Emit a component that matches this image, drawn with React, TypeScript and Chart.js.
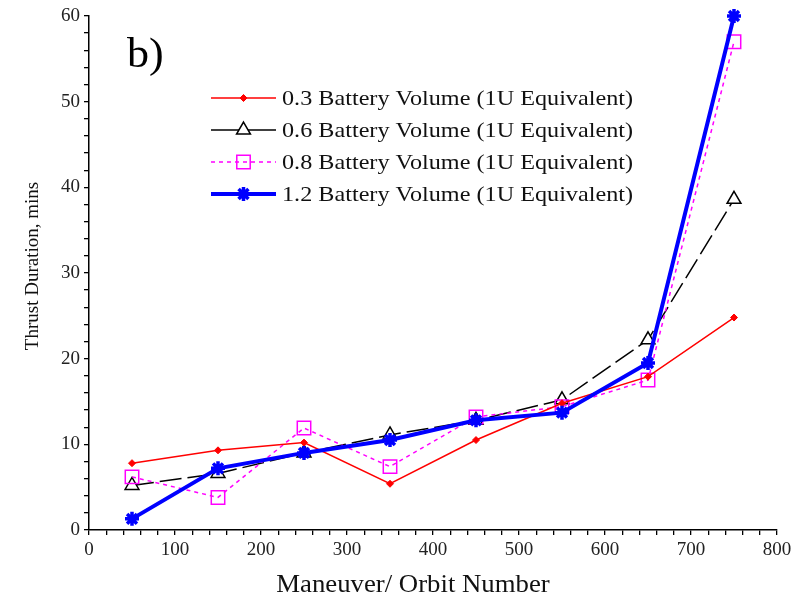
import React, { useEffect, useRef } from 'react';
import { Chart, registerables } from 'chart.js';
import { drawPoint } from 'chart.js/helpers';

Chart.register(...registerables);

// Maneuver / orbit numbers sampled on the x axis
const orbitNumbers = [50, 150, 250, 350, 450, 550, 650, 750];

// Thrust duration (mins) for each battery volume (1U equivalent)
const vol03 = [7.8, 9.3, 10.2, 5.4, 10.5, 14.8, 17.9, 24.8];
const vol06 = [5.2, 6.6, 9.0, 11.1, 12.8, 15.2, 22.2, 38.6];
const vol08 = [6.2, 3.8, 11.9, 7.4, 13.2, 14.4, 17.5, 57.0];
const vol12 = [1.3, 7.2, 9.0, 10.5, 12.8, 13.7, 19.5, 60.0];

const seriesLabels = [
  '0.3 Battery Volume (1U Equivalent)',
  '0.6 Battery Volume (1U Equivalent)',
  '0.8 Battery Volume (1U Equivalent)',
  '1.2 Battery Volume (1U Equivalent)',
];

const xTickLabels = [0, 100, 200, 300, 400, 500, 600, 700, 800];
const yTickLabels = [0, 10, 20, 30, 40, 50, 60];

const panelLabel = 'b)';
const xTitle = 'Maneuver/ Orbit Number';
const yTitle = 'Thrust Duration, mins';

const SERIF = '"Liberation Serif", "Times New Roman", serif';

const toPoints = (ys: number[]) => ys.map((y, i) => ({ x: orbitNumbers[i], y }));

// Text drawn slightly wider than the font's natural width
function wideText(ctx: CanvasRenderingContext2D, text: string, x: number, y: number, sx: number) {
  ctx.save();
  ctx.translate(x, y);
  ctx.scale(sx, 1);
  ctx.fillText(text, 0, 0);
  ctx.restore();
}

// Draws the panel label, axis titles and the inset legend
const annotationsPlugin = {
  id: 'annotations',
  afterDraw(chart: any) {
    const ctx: CanvasRenderingContext2D = chart.ctx;
    const area = chart.chartArea;
    ctx.save();

    ctx.fillStyle = '#000';
    ctx.font = `42px ${SERIF}`;
    ctx.textAlign = 'left';
    ctx.textBaseline = 'alphabetic';
    wideText(ctx, panelLabel, area.left + 38, 67, 1.05);

    // x axis title
    ctx.font = `25px ${SERIF}`;
    ctx.textAlign = 'center';
    ctx.textBaseline = 'middle';
    ctx.fillStyle = '#111';
    wideText(ctx, xTitle, area.left + 324, 585, 1.07);

    // y axis title
    ctx.save();
    ctx.translate(33, 266);
    ctx.rotate(-Math.PI / 2);
    ctx.font = `19px ${SERIF}`;
    ctx.fillText(yTitle, 0, 0);
    ctx.restore();

    // inset legend
    const lineX0 = area.left + 122;
    const lineX1 = area.left + 187;
    const textX = area.left + 193;
    const rowY0 = 98;
    const rowGap = 32;
    chart.data.datasets.forEach((ds: any, i: number) => {
      const y = rowY0 + i * rowGap;
      ctx.save();
      ctx.strokeStyle = ds.borderColor;
      ctx.lineWidth = ds.borderWidth;
      ctx.setLineDash(ds.legendDash || []);
      ctx.beginPath();
      ctx.moveTo(lineX0, y);
      ctx.lineTo(lineX1, y);
      ctx.stroke();
      ctx.setLineDash([]);
      ctx.fillStyle = ds.pointBackgroundColor;
      ctx.strokeStyle = ds.pointBorderColor;
      ctx.lineWidth = ds.pointBorderWidth;
      drawPoint(ctx, {
        pointStyle: ds.pointStyle,
        rotation: 0,
        radius: ds.pointRadius,
        borderWidth: ds.pointBorderWidth,
      } as any, (lineX0 + lineX1) / 2, y);
      ctx.restore();

      ctx.fillStyle = '#111';
      ctx.font = `22px ${SERIF}`;
      ctx.textAlign = 'left';
      ctx.textBaseline = 'middle';
      wideText(ctx, seriesLabels[i], textX, y + 1, 1.1);
    });

    ctx.restore();
  },
};

export default function App() {
  const canvasRef = useRef<HTMLCanvasElement>(null);

  useEffect(() => {
    document.body.style.margin = '0';
    const canvas = canvasRef.current;
    if (!canvas) return;

    const chart = new Chart(canvas, {
      type: 'line',
      data: {
        datasets: [
          {
            label: seriesLabels[0],
            data: toPoints(vol03),
            borderColor: '#ff0000',
            borderWidth: 1.5,
            pointStyle: 'rectRot',
            pointRadius: 3.5,
            pointBackgroundColor: '#ff0000',
            pointBorderColor: '#ff0000',
            pointBorderWidth: 1,
            order: 1,
            clip: false,
          } as any,
          {
            label: seriesLabels[1],
            data: toPoints(vol06),
            borderColor: '#000000',
            borderWidth: 1.5,
            borderDash: [22, 6],
            legendDash: [],
            pointStyle: 'triangle',
            pointRadius: 8,
            pointBackgroundColor: '#ffffff',
            pointBorderColor: '#000000',
            pointBorderWidth: 1.5,
            order: 3,
            clip: false,
          } as any,
          {
            label: seriesLabels[2],
            data: toPoints(vol08),
            borderColor: '#ff00ff',
            borderWidth: 1.5,
            borderDash: [4, 4],
            legendDash: [4, 4],
            pointStyle: 'rect',
            pointRadius: 9.5,
            pointBackgroundColor: 'rgba(255,255,255,0)',
            pointBorderColor: '#ff00ff',
            pointBorderWidth: 1.5,
            order: 2,
            clip: false,
          } as any,
          {
            label: seriesLabels[3],
            data: toPoints(vol12),
            borderColor: '#0000ff',
            borderWidth: 4,
            pointStyle: 'star',
            pointRadius: 7,
            pointBackgroundColor: '#0000ff',
            pointBorderColor: '#0000ff',
            pointBorderWidth: 3.5,
            order: 0,
            clip: false,
          } as any,
        ],
      },
      options: {
        animation: false,
        responsive: false,
        maintainAspectRatio: false,
        layout: { padding: { left: 0, right: 29, top: 16, bottom: 0 } },
        plugins: {
          legend: { display: false },
          tooltip: { enabled: false },
        },
        elements: { line: { tension: 0 } },
        scales: {
          x: {
            type: 'linear',
            position: 'bottom',
            min: xTickLabels[0],
            max: xTickLabels[xTickLabels.length - 1],
            afterFit: (s: any) => { s.height = 71; },
            ticks: {
              stepSize: 20,
              autoSkip: false,
              maxRotation: 0,
              padding: 4,
              color: '#222',
              font: { family: SERIF, size: 19 },
              callback: (v: any) => (xTickLabels.includes(Number(v)) ? String(v) : ''),
            },
            grid: { drawOnChartArea: false, tickLength: 5, color: '#000', lineWidth: 1.3 },
            border: { color: '#000', width: 1.5 },
          },
          y: {
            type: 'linear',
            position: 'left',
            min: yTickLabels[0],
            max: yTickLabels[yTickLabels.length - 1],
            afterFit: (s: any) => { s.width = 89; },
            ticks: {
              stepSize: 2,
              autoSkip: false,
              padding: 4,
              color: '#222',
              font: { family: SERIF, size: 19 },
              callback: (v: any) => (yTickLabels.includes(Number(v)) ? String(v) : ''),
            },
            grid: { drawOnChartArea: false, tickLength: 5, color: '#000', lineWidth: 1.3 },
            border: { color: '#000', width: 1.5 },
          },
        },
      } as any,
      plugins: [annotationsPlugin],
    });

    return () => chart.destroy();
  }, []);

  return (
    <div style={{ width: 806, height: 601, background: '#fff' }}>
      <canvas ref={canvasRef} width={806} height={601} style={{ display: 'block' }} />
    </div>
  );
}
